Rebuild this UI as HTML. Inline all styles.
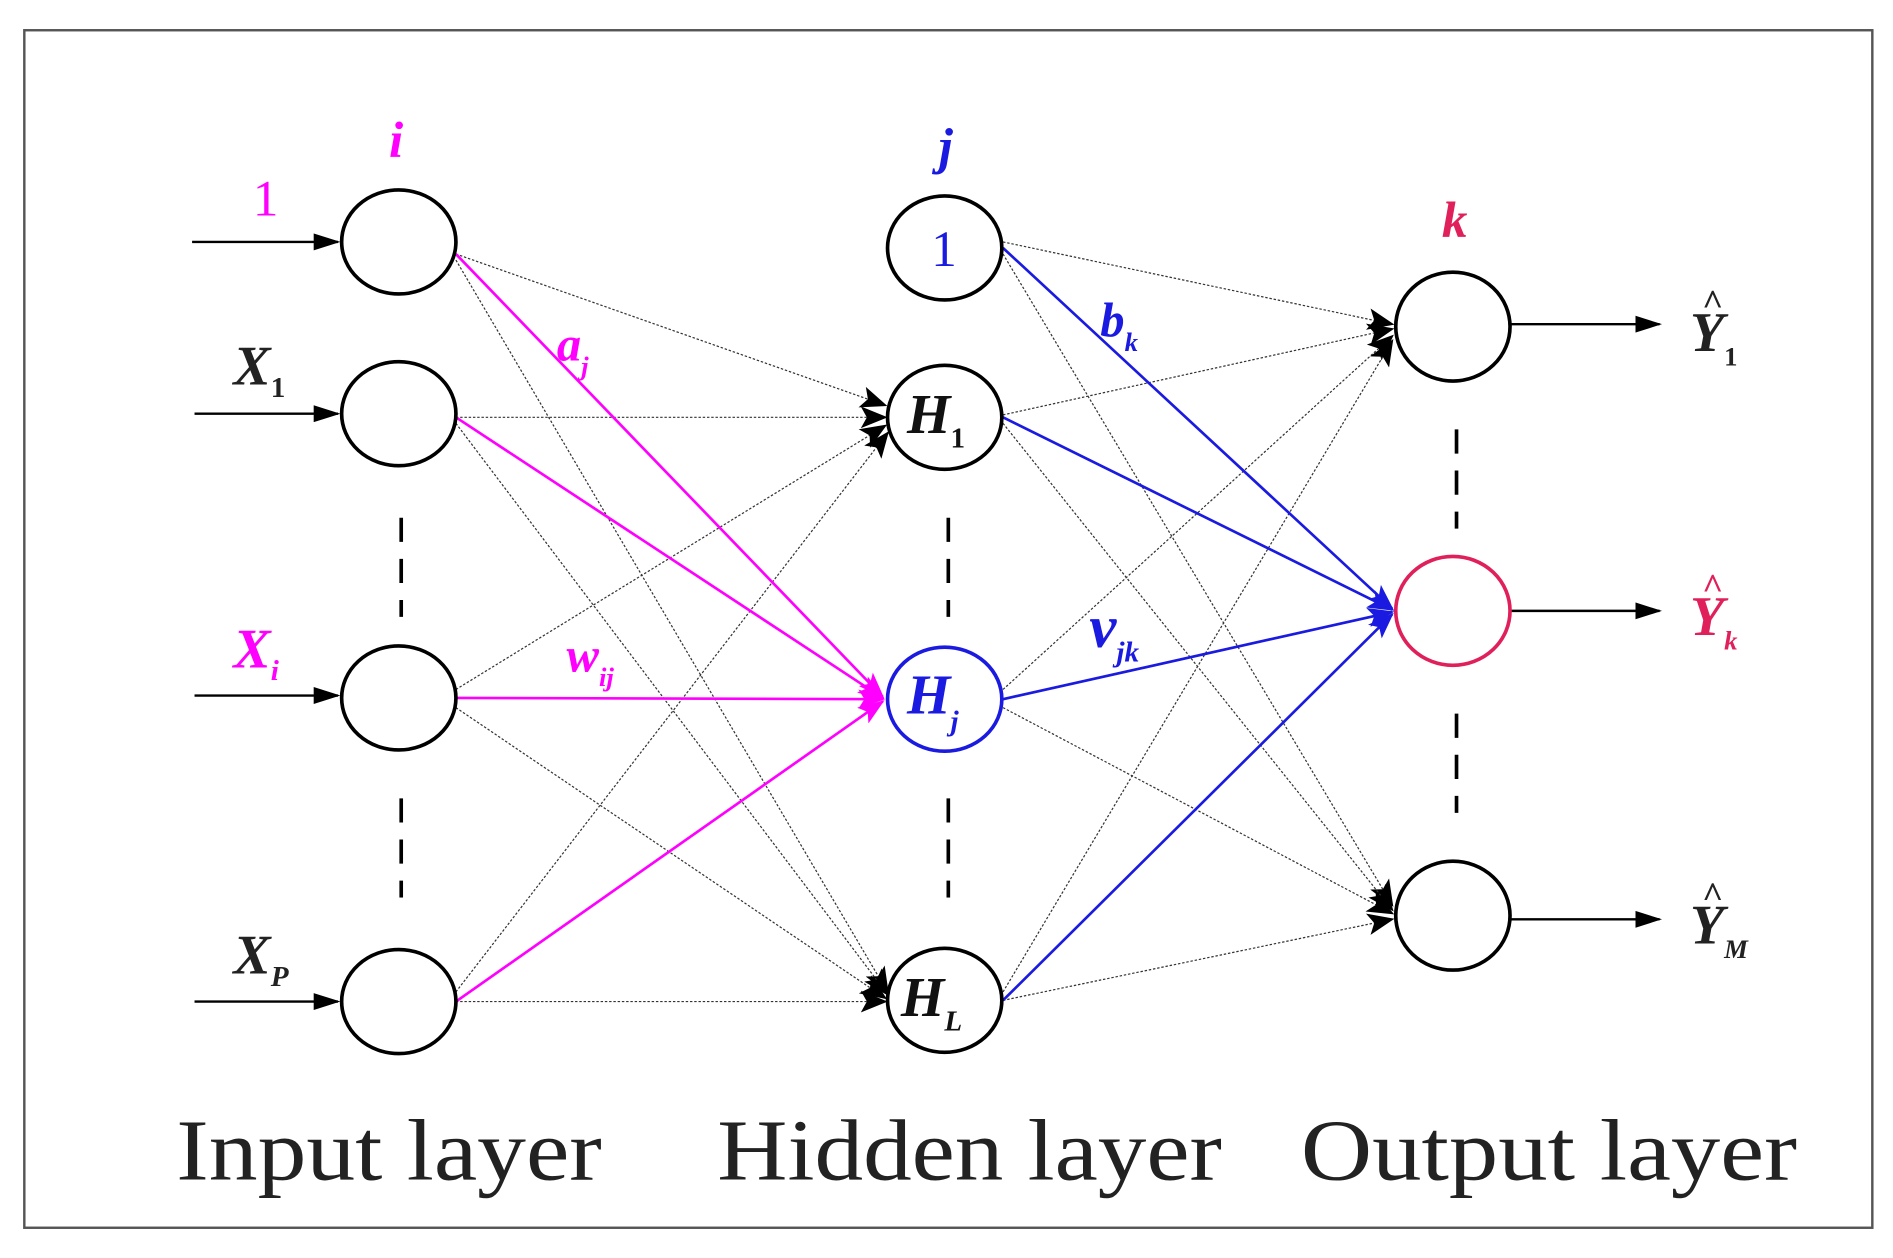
<!DOCTYPE html>
<html><head><meta charset="utf-8"><style>
html,body{margin:0;padding:0;background:#fff;}
svg{display:block;}
text{font-family:"Liberation Serif",serif;}
</style></head><body>
<svg width="1893" height="1258" viewBox="0 0 1557 1040" preserveAspectRatio="none" xmlns="http://www.w3.org/2000/svg">
<defs>
<marker id="abig" markerWidth="22" markerHeight="18" refX="20" refY="9" orient="auto" markerUnits="userSpaceOnUse"><path d="M0,0 L22,9 L0,18 L5,9z" fill="#000"/></marker>
<marker id="am" markerWidth="22" markerHeight="16" refX="20" refY="8" orient="auto" markerUnits="userSpaceOnUse"><path d="M0,0 L22,8 L0,16 L5,8z" fill="#f0f"/></marker>
<marker id="abl" markerWidth="22" markerHeight="16" refX="20" refY="8" orient="auto" markerUnits="userSpaceOnUse"><path d="M0,0 L22,8 L0,16 L5,8z" fill="#1a1ae0"/></marker>
<marker id="ao" markerWidth="22" markerHeight="14" refX="20" refY="7" orient="auto" markerUnits="userSpaceOnUse"><path d="M0,0 L22,7 L0,14z" fill="#000"/></marker>
</defs>
<rect x="0" y="0" width="1557" height="1040" fill="#fff"/>
<rect x="20" y="25" width="1520" height="990" fill="none" stroke="#555" stroke-width="2"/>

<g stroke="#333" stroke-width="1" stroke-dasharray="2,1.5" fill="none" marker-end="url(#abig)">
<line x1="375" y1="210" x2="728" y2="335"/>
<line x1="375" y1="215" x2="730" y2="820"/>
<line x1="375" y1="345" x2="728" y2="345"/>
<line x1="375" y1="350" x2="730" y2="822"/>
<line x1="375" y1="570" x2="728" y2="352"/>
<line x1="375" y1="585" x2="728" y2="825"/>
<line x1="375" y1="820" x2="730" y2="358"/>
<line x1="375" y1="828" x2="728" y2="828"/>
</g>
<g stroke="#333" stroke-width="1" stroke-dasharray="2,1.5" fill="none" marker-end="url(#abig)">
<line x1="825" y1="200" x2="1145" y2="268"/>
<line x1="825" y1="210" x2="1145" y2="748"/>
<line x1="825" y1="343" x2="1145" y2="272"/>
<line x1="825" y1="350" x2="1145" y2="752"/>
<line x1="825" y1="570" x2="1145" y2="278"/>
<line x1="825" y1="585" x2="1145" y2="755"/>
<line x1="825" y1="820" x2="1145" y2="282"/>
<line x1="825" y1="827" x2="1145" y2="760"/>
</g>
<g stroke="#f0f" stroke-width="2.2" fill="none" marker-end="url(#am)">
<line x1="375" y1="210" x2="726" y2="576"/>
<line x1="375" y1="345" x2="726" y2="577"/>
<line x1="375" y1="577" x2="726" y2="578"/>
<line x1="375" y1="828" x2="726" y2="580"/>
</g>
<g stroke="#1a1ae0" stroke-width="2.2" fill="none" marker-end="url(#abl)">
<line x1="825" y1="205" x2="1145" y2="503"/>
<line x1="825" y1="345" x2="1145" y2="504"/>
<line x1="825" y1="578" x2="1145" y2="506"/>
<line x1="825" y1="827" x2="1145" y2="508"/>
</g>

<g stroke="#000" stroke-width="2" marker-end="url(#ao)">
<line x1="158" y1="200" x2="278" y2="200"/>
<line x1="160" y1="342" x2="278" y2="342"/>
<line x1="160" y1="575" x2="278" y2="575"/>
<line x1="160" y1="828" x2="278" y2="828"/>
<line x1="1243" y1="268" x2="1365" y2="268"/>
<line x1="1243" y1="505" x2="1365" y2="505"/>
<line x1="1243" y1="760" x2="1365" y2="760"/>
</g>

<g fill="#fff" stroke-width="3">
<ellipse cx="328" cy="200" rx="47" ry="43" stroke="#000"/>
<ellipse cx="328" cy="342" rx="47" ry="43" stroke="#000"/>
<ellipse cx="328" cy="577" rx="47" ry="43" stroke="#000"/>
<ellipse cx="328" cy="828" rx="47" ry="43" stroke="#000"/>
<ellipse cx="777" cy="205" rx="47" ry="43" stroke="#000"/>
<ellipse cx="777" cy="345" rx="47" ry="43" stroke="#000"/>
<ellipse cx="777" cy="578" rx="47" ry="43" stroke="#1a1ae0"/>
<ellipse cx="777" cy="827" rx="47" ry="43" stroke="#000"/>
<ellipse cx="1195" cy="270" rx="47" ry="45" stroke="#000"/>
<ellipse cx="1195" cy="505" rx="47" ry="45" stroke="#e0205a"/>
<ellipse cx="1195" cy="757" rx="47" ry="45" stroke="#000"/>
</g>

<g stroke="#000" stroke-width="3" stroke-dasharray="20,14">
<line x1="330" y1="428" x2="330" y2="510"/>
<line x1="330" y1="660" x2="330" y2="742"/>
<line x1="780" y1="428" x2="780" y2="510"/>
<line x1="780" y1="660" x2="780" y2="742"/>
<line x1="1198" y1="355" x2="1198" y2="437"/>
<line x1="1198" y1="590" x2="1198" y2="672"/>
</g>

<g font-style="italic" font-weight="bold">
<text x="320" y="130" font-size="42" fill="#f0f">i</text>
<text x="772" y="135" font-size="42" fill="#1a1ae0">j</text>
<text x="1186" y="196" font-size="42" fill="#e0205a">k</text>
<text x="192" y="318" font-size="46" fill="#222">X<tspan font-size="24" dy="10" font-style="normal">1</tspan></text>
<text x="192" y="552" font-size="46" fill="#f0f">X<tspan font-size="24" dy="10">i</tspan></text>
<text x="192" y="805" font-size="46" fill="#222">X<tspan font-size="24" dy="10">P</tspan></text>
<text x="746" y="358" font-size="46" fill="#111">H<tspan font-size="24" dy="12" font-style="normal">1</tspan></text>
<text x="746" y="590" font-size="46" fill="#1a1ae0">H<tspan font-size="24" dy="14">j</tspan></text>
<text x="741" y="840" font-size="46" fill="#111">H<tspan font-size="24" dy="12">L</tspan></text>
<text x="458" y="298" font-size="40" fill="#f0f">a<tspan font-size="22" dy="12">j</tspan></text>
<text x="466" y="555" font-size="40" fill="#f0f">w<tspan font-size="22" dy="12">ij</tspan></text>
<text x="905" y="278" font-size="40" fill="#1a1ae0">b<tspan font-size="22" dy="12">k</tspan></text>
<text x="896" y="535" font-size="50" fill="#1a1ae0">v<tspan font-size="24" dy="12">jk</tspan></text>
<text x="1390" y="290" font-size="46" fill="#222">Y<tspan font-size="22" dy="12" font-style="normal">1</tspan></text>
<text x="1390" y="525" font-size="46" fill="#e0205a">Y<tspan font-size="22" dy="12">k</tspan></text>
<text x="1390" y="780" font-size="46" fill="#222">Y<tspan font-size="22" dy="12">M</tspan></text>
</g>
<g font-size="30" fill="#222" font-weight="bold">
<text x="1400" y="260">^</text>
<text x="1400" y="495" fill="#e0205a">^</text>
<text x="1400" y="750">^</text>
</g>
<text x="208" y="178" font-size="42" fill="#f0f">1</text>
<text x="766" y="220" font-size="42" fill="#1a1ae0">1</text>

<g font-size="72" fill="#222">
<text x="145" y="975" textLength="350" lengthAdjust="spacingAndGlyphs">Input layer</text>
<text x="590" y="975" textLength="415" lengthAdjust="spacingAndGlyphs">Hidden layer</text>
<text x="1070" y="975" textLength="408" lengthAdjust="spacingAndGlyphs">Output layer</text>
</g>
</svg>
</body></html>
